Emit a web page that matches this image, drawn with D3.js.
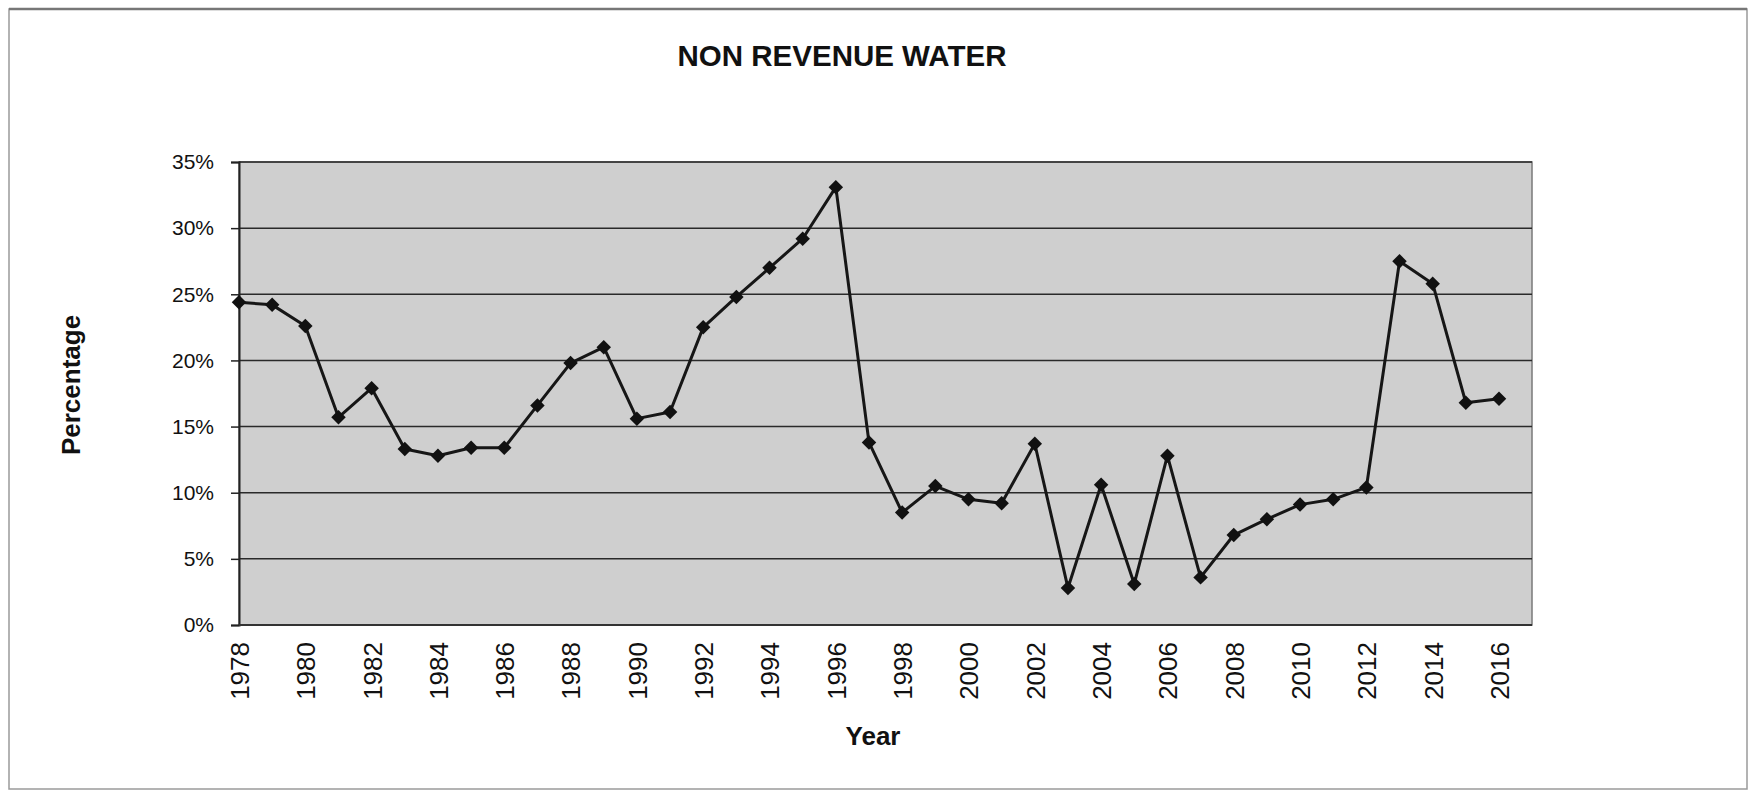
<!DOCTYPE html>
<html>
<head>
<meta charset="utf-8">
<script src="https://cdn.jsdelivr.net/npm/d3@7"></script>
<style>
  body { margin: 0; background: #fff; }
  text { font-family: "Liberation Sans", Arial, sans-serif; fill: #111; }
</style>
</head>
<body>
<div id="chart"></div>
<script>
// years on the category axis
const years = d3.range(1978, 2017)
// non revenue water, share of production
const nrw = [
	0.244, 0.242, 0.226, 0.157, 0.179, 0.133, 0.128, 0.134, 0.134, 0.166,
	0.198, 0.210, 0.156, 0.161, 0.225, 0.248, 0.270, 0.292, 0.331, 0.138,
	0.085, 0.105, 0.095, 0.092, 0.137, 0.028, 0.106, 0.031, 0.128, 0.036,
	0.068, 0.080, 0.091, 0.095, 0.104, 0.275, 0.258, 0.168, 0.171
]
const yTicks = [0, 0.05, 0.10, 0.15, 0.20, 0.25, 0.30, 0.35]
const xTicks = years.filter(y => (y - 1978) % 2 == 0)

const W = 1753, H = 793
// plot frame
const plot = { left: 239, right: 1532, top: 162, bottom: 625 }

const data = years.map((y, i) => ({ year: y, value: nrw[i] }))

let svg = d3.select('#chart').append('svg')
	.attr('width', W)
	.attr('height', H)

//outer frame of the scanned chart
svg.append('rect')
	.attr('x', 9).attr('y', 9)
	.attr('width', 1738).attr('height', 780)
	.attr('fill', 'none')
	.attr('stroke', '#9a9a9a')
	.attr('stroke-width', 1.5)
svg.append('line')
	.attr('x1', 9).attr('x2', 1747)
	.attr('y1', 9).attr('y2', 9)
	.attr('stroke', '#777')
	.attr('stroke-width', 2.5)

const x = d3.scaleLinear()
	.domain([1978, 2016])
	.range([plot.left, 1499])

const y = d3.scaleLinear()
	.domain([0, 0.35])
	.range([plot.bottom, plot.top])

//grey plot area
svg.append('rect')
	.attr('x', plot.left).attr('y', plot.top)
	.attr('width', plot.right - plot.left)
	.attr('height', plot.bottom - plot.top)
	.attr('fill', '#cfcfcf')
	.attr('stroke', '#7a7a7a')
	.attr('stroke-width', 1.5)

//gridlines
svg.append('g')
	.selectAll('line')
	.data(yTicks)
	.join('line')
	.attr('x1', plot.left).attr('x2', plot.right)
	.attr('y1', d => y(d)).attr('y2', d => y(d))
	.attr('stroke', '#2a2a2a')
	.attr('stroke-width', 1.5)

//y axis
let yAxis = svg.append('g')
	.attr('transform', `translate(${plot.left},0)`)
	.call(d3.axisLeft(y).tickValues(yTicks).tickFormat(d3.format('.0%')).tickSize(8).tickPadding(17))
yAxis.select('.domain').attr('stroke', '#222').attr('stroke-width', 2)
yAxis.selectAll('.tick line').attr('stroke', '#222').attr('stroke-width', 1.5)
yAxis.selectAll('.tick text')
	.style('font-size', '21px')
	.style('font-family', '"Liberation Sans", Arial, sans-serif')
	.attr('fill', '#111')

//x axis
let xAxis = svg.append('g')
	.attr('transform', `translate(0,${plot.bottom})`)
	.call(d3.axisBottom(x).tickValues(xTicks).tickFormat(d3.format('d')).tickSize(0))
xAxis.select('.domain').attr('stroke', '#333').attr('stroke-width', 2)
	.attr('d', `M${plot.left},0H${plot.right}`)
xAxis.selectAll('.tick text')
	.attr('transform', 'rotate(-90)')
	.attr('x', -17)
	.attr('y', 0)
	.attr('dy', '0.36em')
	.attr('text-anchor', 'end')
	.style('font-size', '26px')
	.style('font-family', '"Liberation Sans", Arial, sans-serif')
	.attr('fill', '#111')

//the line
const line = d3.line()
	.x(d => x(d.year))
	.y(d => y(d.value))

svg.append('path')
	.datum(data)
	.attr('d', line)
	.attr('fill', 'none')
	.attr('stroke', '#161616')
	.attr('stroke-width', 3)
	.attr('stroke-linejoin', 'round')

//diamond markers
svg.append('g')
	.selectAll('path')
	.data(data)
	.join('path')
	.attr('d', d3.symbol(d3.symbolSquare, 105))
	.attr('transform', d => `translate(${x(d.year)},${y(d.value)}) rotate(45)`)
	.attr('fill', '#111')

//titles
svg.append('text')
	.attr('x', 842).attr('y', 66)
	.attr('text-anchor', 'middle')
	.style('font-size', '29.5px')
	.style('font-weight', 'bold')
	.text('NON REVENUE WATER')

svg.append('text')
	.attr('transform', 'translate(80,385) rotate(-90)')
	.attr('text-anchor', 'middle')
	.style('font-size', '26px')
	.style('font-weight', 'bold')
	.text('Percentage')

svg.append('text')
	.attr('x', 873).attr('y', 745)
	.attr('text-anchor', 'middle')
	.style('font-size', '26px')
	.style('font-weight', 'bold')
	.text('Year')
</script>
</body>
</html>
